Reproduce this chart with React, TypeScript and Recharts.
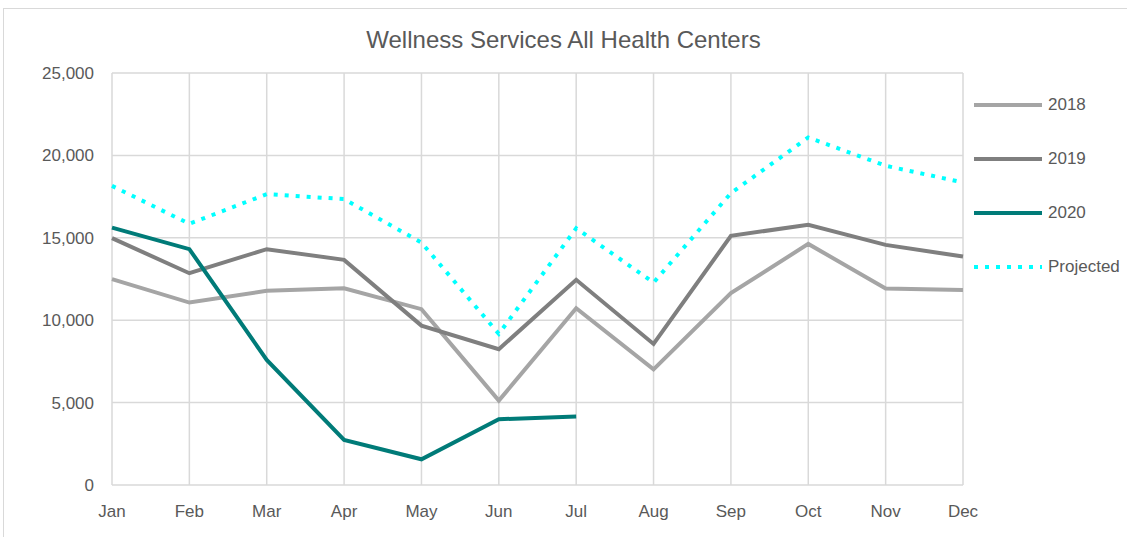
import React from "react";
import { LineChart, Line, XAxis, YAxis, CartesianGrid } from "recharts";

const months = ["Jan", "Feb", "Mar", "Apr", "May", "Jun", "Jul", "Aug", "Sep", "Oct", "Nov", "Dec"];
const s2018 = [12490, 11070, 11780, 11940, 10670, 5120, 10730, 7020, 11640, 14630, 11920, 11840];
const s2019 = [14980, 12850, 14310, 13660, 9670, 8240, 12450, 8560, 15120, 15790, 14570, 13860];
const s2020: (number | null)[] = [15620, 14310, 7590, 2730, 1560, 3990, 4150, null, null, null, null, null];
const projected = [18150, 15850, 17650, 17350, 14710, 9170, 15580, 12280, 17710, 21090, 19370, 18360];
const yTicks = [0, 5000, 10000, 15000, 20000, 25000];

const title = "Wellness Services All Health Centers";

const seriesMeta = [
  { key: "y2018", name: "2018", color: "#A5A5A5", dash: undefined as string | undefined },
  { key: "y2019", name: "2019", color: "#7F7F7F", dash: undefined as string | undefined },
  { key: "y2020", name: "2020", color: "#007B78", dash: undefined as string | undefined },
  { key: "proj", name: "Projected", color: "#00FFFF", dash: "4 7" },
];

const data = months.map((m, i) => ({
  month: m,
  y2018: s2018[i],
  y2019: s2019[i],
  y2020: s2020[i],
  proj: projected[i],
}));

const FONT = "'Liberation Sans', Arial, sans-serif";
const TEXT = "#595959";

export default function App() {
  return (
    <div style={{ position: "absolute", left: 0, top: 0, width: 1127, height: 537, background: "#fff", overflow: "hidden", fontFamily: FONT }}>
      <div style={{ position: "absolute", left: 3, top: 8, width: 1140, height: 540, border: "1px solid #d9d9d9", boxSizing: "border-box" }} />
      <div style={{ position: "absolute", left: 0, top: 26, width: 1127, textAlign: "center", fontSize: 24, color: TEXT }}>{title}</div>
      <div style={{ position: "absolute", left: 0, top: 0 }}>
        <LineChart width={1127} height={537} data={data} margin={{ top: 73, right: 164, bottom: 22, left: 52 }}>
          <CartesianGrid stroke="#d9d9d9" strokeWidth={1.5} vertical={true} horizontal={true} />
          <XAxis
            dataKey="month"
            axisLine={false}
            tickLine={false}
            tickSize={0}
            tickMargin={20}
            height={30}
            interval={0}
            tick={{ fill: TEXT, fontSize: 17, fontFamily: FONT }}
          />
          <YAxis
            domain={[0, 25000]}
            ticks={yTicks}
            axisLine={false}
            tickLine={false}
            tickSize={0}
            tickMargin={18}
            width={60}
            tickFormatter={(v: number) => v.toLocaleString("en-US")}
            tick={{ fill: TEXT, fontSize: 17, fontFamily: FONT }}
          />
          {seriesMeta.map((s) => (
            <Line
              key={s.key}
              type="linear"
              dataKey={s.key}
              name={s.name}
              stroke={s.color}
              strokeWidth={4}
              strokeDasharray={s.dash}
              dot={false}
              activeDot={false}
              isAnimationActive={false}
            />
          ))}
        </LineChart>
      </div>
      {seriesMeta.map((s, i) => (
        <div key={s.key} style={{ position: "absolute", left: 974, top: 94 + i * 54, height: 22, display: "flex", alignItems: "center" }}>
          <svg width={70} height={22}>
            <line x1={0} y1={11} x2={68} y2={11} stroke={s.color} strokeWidth={4} strokeDasharray={s.dash} />
          </svg>
          <span style={{ fontSize: 17, color: TEXT, marginLeft: 4 }}>{s.name}</span>
        </div>
      ))}
    </div>
  );
}
